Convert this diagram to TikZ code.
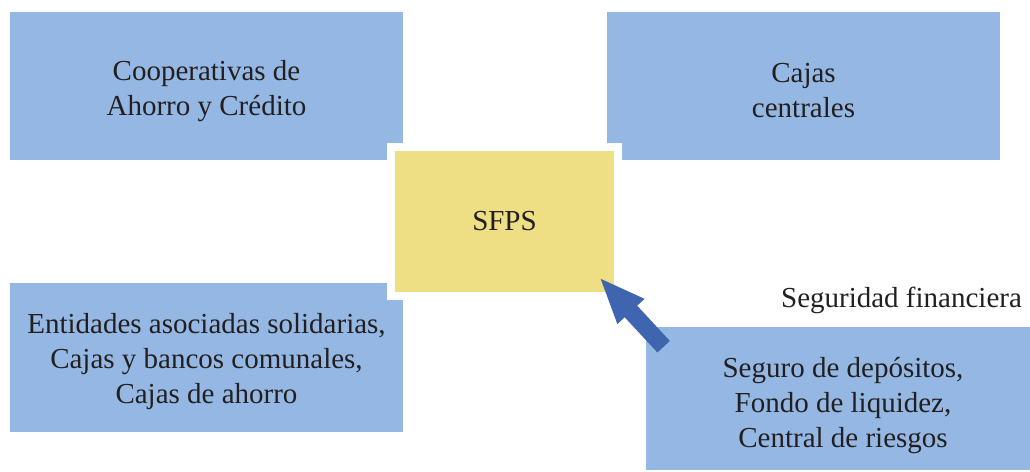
\documentclass[tikz,border=0pt]{standalone}
\usepackage{fontspec}
\setmainfont{Liberation Serif}
\newfontfamily\diagfont{Liberation Serif}
\usetikzlibrary{arrows.meta}
\definecolor{boxblue}{RGB}{148,184,227}
\definecolor{boxyellow}{RGB}{238,223,132}
\definecolor{arrowblue}{RGB}{63,101,177}
\definecolor{txt}{RGB}{35,31,32}
\tikzset{
  bluebox/.style={fill=boxblue, draw=none, align=center, text=txt, inner sep=0pt,
    font=\diagfont\fontsize{29}{35}\selectfont},
  centerbox/.style={fill=boxyellow, draw=white, line width=8pt, align=center, text=txt,
    inner sep=0pt, minimum width=227pt, minimum height=149pt, font=\diagfont\fontsize{29}{35}\selectfont},
  bigarrow/.style={draw=arrowblue, line width=17pt,
    -{Triangle[width=33pt,length=47pt]}},
  plain/.style={text=txt, inner sep=0pt, font=\diagfont\fontsize{29}{35}\selectfont}
}
\begin{document}
\begin{tikzpicture}[x=1pt,y=-1pt]
\useasboundingbox (0,0) rectangle (1030,471);
\node[bluebox, minimum width=393pt, minimum height=148pt] (tl) at (206.5,86) {};
\node[bluebox, minimum width=393pt, minimum height=148pt] (tr) at (803.5,86) {};
\node[bluebox, minimum width=393pt, minimum height=149pt] (bl) at (206.5,357.5) {};
\node[bluebox, minimum width=384pt, minimum height=143pt] (br) at (838,398.5) {};
\node[bluebox, fill=none] (tltext) at (206.5,91) {Cooperativas de\\Ahorro y Crédito};
\node[bluebox, fill=none] (trtext) at (803.5,91) {Cajas\\centrales};
\node[bluebox, fill=none] (bltext) at (206.5,361.5) {Entidades asociadas solidarias,\\Cajas y bancos comunales,\\Cajas de ahorro};
\node[bluebox, fill=none] (brtext) at (843,406) {Seguro de depósitos,\\Fondo de liquidez,\\Central de riesgos};
\node[centerbox] (sfps) at (504.5,221.5) {SFPS};
\coordinate (atail) at (663.6,346.7);
\coordinate (atip) at (599,277);
\draw[bigarrow] (atail) -- (atip);
\node[plain] (lab) at (901.5,300) {Seguridad financiera};
\end{tikzpicture}
\end{document}
